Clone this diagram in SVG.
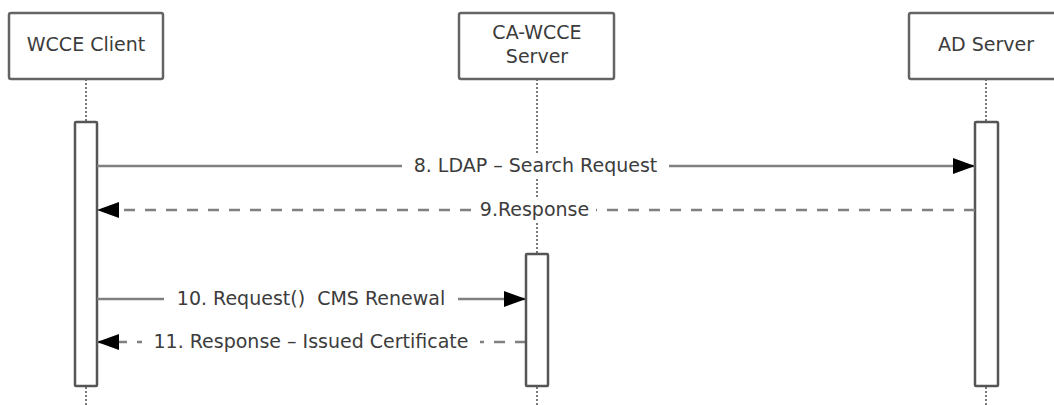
<svg xmlns="http://www.w3.org/2000/svg" width="1054" height="405" viewBox="0 0 1054 405">
<style>
text{font-family:"DejaVu Sans","Verdana",sans-serif;font-size:19px;fill:#3c3c3c;text-anchor:middle;white-space:pre}
.hdr{fill:#fff;stroke:#646464;stroke-width:2.5}
.life{stroke:#7a7a7a;stroke-width:2;stroke-dasharray:2 2;fill:none}
.act{fill:#fff;stroke:#555;stroke-width:2.5}
.msg{stroke:#808080;stroke-width:2.5;fill:none}
.dash{stroke-dasharray:11 10}
.bg{fill:#fff}
</style>
<defs>
<marker id="ah" markerUnits="userSpaceOnUse" markerWidth="24" markerHeight="18" refX="22" refY="8" orient="auto">
<path d="M0,0 L22,8 L0,16 Z" fill="#000"/>
</marker>
</defs>
<g id="lifelines">
<line class="life" x1="86" y1="79" x2="86" y2="405"/>
<line class="life" x1="537" y1="79" x2="537" y2="405"/>
<line class="life" x1="986" y1="79" x2="986" y2="405"/>
</g>
<g id="node-wcce-client">
<rect class="hdr" x="9" y="13" width="154" height="66" rx="2"/>
<text x="86" y="51">WCCE Client</text>
<rect class="act" x="75" y="122" width="22" height="264" rx="1"/>
</g>
<g id="node-ca-wcce-server">
<rect class="hdr" x="459" y="13" width="155" height="66" rx="2"/>
<text x="537" y="39">CA-WCCE</text>
<text x="537" y="63">Server</text>
</g>
<g id="node-ad-server">
<rect class="hdr" x="909" y="13" width="160" height="66" rx="2"/>
<text x="986" y="51">AD Server</text>
<rect class="act" x="975" y="122" width="23" height="264" rx="1"/>
</g>
<g id="connectors">
<line class="msg" x1="97" y1="166" x2="975" y2="166" marker-end="url(#ah)"/>
<rect class="bg" x="402" y="154" width="267" height="24"/>
<text x="535.5" y="172">8. LDAP – Search Request</text>
<line class="msg dash" x1="975" y1="210" x2="97" y2="210" marker-end="url(#ah)"/>
<rect class="bg" x="473" y="198" width="123" height="24"/>
<text x="534.5" y="216">9.Response</text>
<line class="msg" x1="97" y1="299" x2="526" y2="299" marker-end="url(#ah)"/>
<rect class="bg" x="164" y="287" width="294" height="24"/>
<text x="311" y="305">10. Request()  CMS Renewal</text>
<line class="msg dash" x1="526" y1="342" x2="97" y2="342" marker-end="url(#ah)"/>
<rect class="bg" x="142" y="330" width="338" height="24"/>
<text x="311" y="348">11. Response – Issued Certificate</text>
</g>
<g id="node-ca-activation">
<rect class="act" x="526" y="254" width="22" height="132" rx="1"/>
</g>
</svg>
